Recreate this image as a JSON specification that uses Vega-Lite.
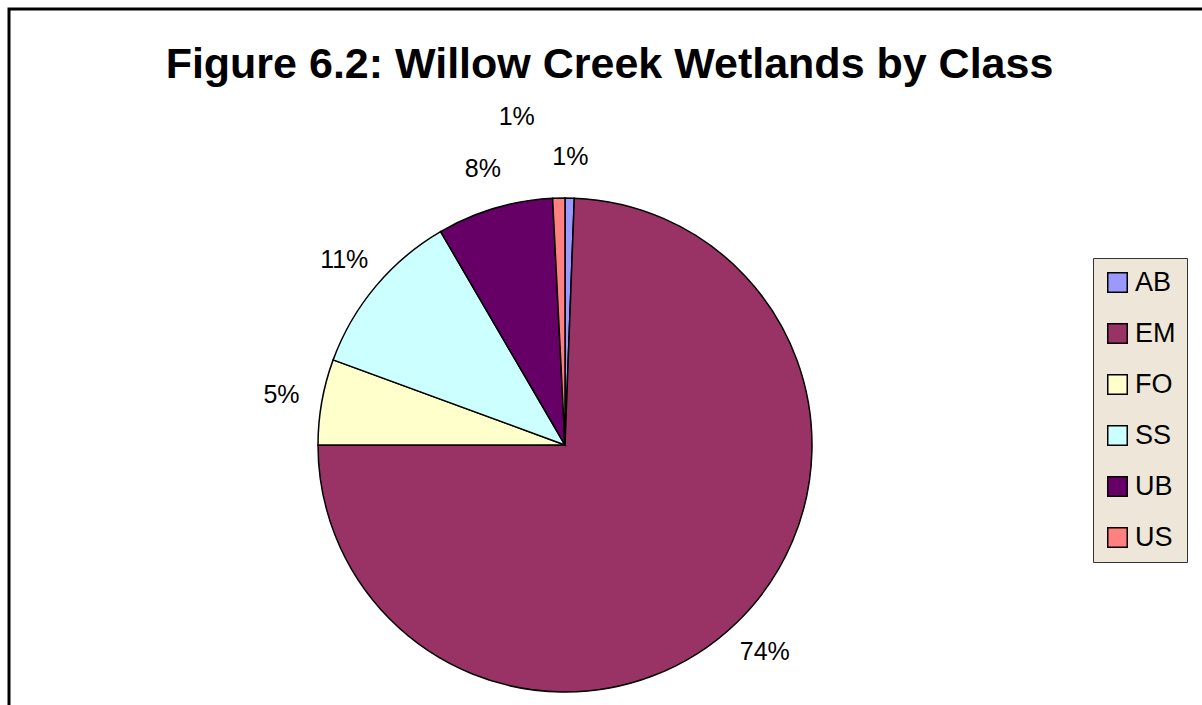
{
  "$schema": "https://vega.github.io/schema/vega-lite/v6.json",
  "autosize": {"type": "fit", "contains": "padding"},
  "width": 1202,
  "height": 705,
  "padding": {"left": 9, "top": 9, "right": -8, "bottom": -8},
  "background": "white",
  "title": {
    "text": "Figure 6.2: Willow Creek Wetlands by Class",
    "anchor": "middle",
    "font": "Liberation Sans",
    "fontSize": 43,
    "fontWeight": "bold",
    "color": "black",
    "dy": 82
  },
  "config": {
    "view": {"stroke": "black", "strokeWidth": 3},
    "font": "Liberation Sans"
  },
  "data": {
    "values": [
      {"cls": "AB", "pct": 0.6, "label": "1%"},
      {"cls": "EM", "pct": 74.4, "label": "74%"},
      {"cls": "FO", "pct": 5.6, "label": "5%"},
      {"cls": "SS", "pct": 11.0, "label": "11%"},
      {"cls": "UB", "pct": 7.6, "label": "8%"},
      {"cls": "US", "pct": 0.8, "label": "1%"}
    ]
  },
  "encoding": {
    "theta": {"field": "pct", "type": "quantitative", "stack": true},
    "order": {"field": "cls", "type": "nominal"}
  },
  "layer": [
    {
      "mark": {"type": "point", "opacity": 0},
      "encoding": {
        "x": {"field": "pct", "type": "quantitative", "axis": null},
        "y": {"field": "pct", "type": "quantitative", "axis": null}
      }
    },
    {
      "mark": {"type": "arc", "outerRadius": 247, "x": 556, "y": 436, "stroke": "black", "strokeWidth": 1.5},
      "encoding": {
        "color": {
          "field": "cls",
          "type": "nominal",
          "scale": {"domain": ["AB", "EM", "FO", "SS", "UB", "US"], "range": ["#9999FF", "#993366", "#FFFFCC", "#CCFFFF", "#660066", "#FF8080"]},
          "legend": {
            "title": null,
            "orient": "none",
            "legendX": 1084,
            "legendY": 249,
            "fillColor": "#EEE6D8",
            "strokeColor": "#333333",
            "padding": 11,
            "symbolType": "square",
            "symbolSize": 380,
            "symbolStrokeColor": "black",
            "symbolStrokeWidth": 1.5,
            "symbolOpacity": 1,
            "labelFont": "Liberation Sans",
            "labelFontSize": 27,
            "labelColor": "black",
            "labelOffset": 4,
            "rowPadding": 23
          }
        }
      }
    },
    {
      "mark": {"type": "text", "radius": 288, "x": 556, "y": 436, "fontSize": 25, "font": "Liberation Sans", "fill": "black"},
      "encoding": {
        "text": {"field": "label"},
        "opacity": {"condition": {"test": "datum.cls === 'US'", "value": 0}, "value": 1}
      }
    },
    {
      "mark": {"type": "text", "radius": 288, "x": 556, "y": 436, "fontSize": 25, "font": "Liberation Sans", "fill": "black", "dx": -41, "dy": -40},
      "encoding": {
        "text": {"field": "label"},
        "opacity": {"condition": {"test": "datum.cls === 'US'", "value": 1}, "value": 0}
      }
    }
  ]
}
